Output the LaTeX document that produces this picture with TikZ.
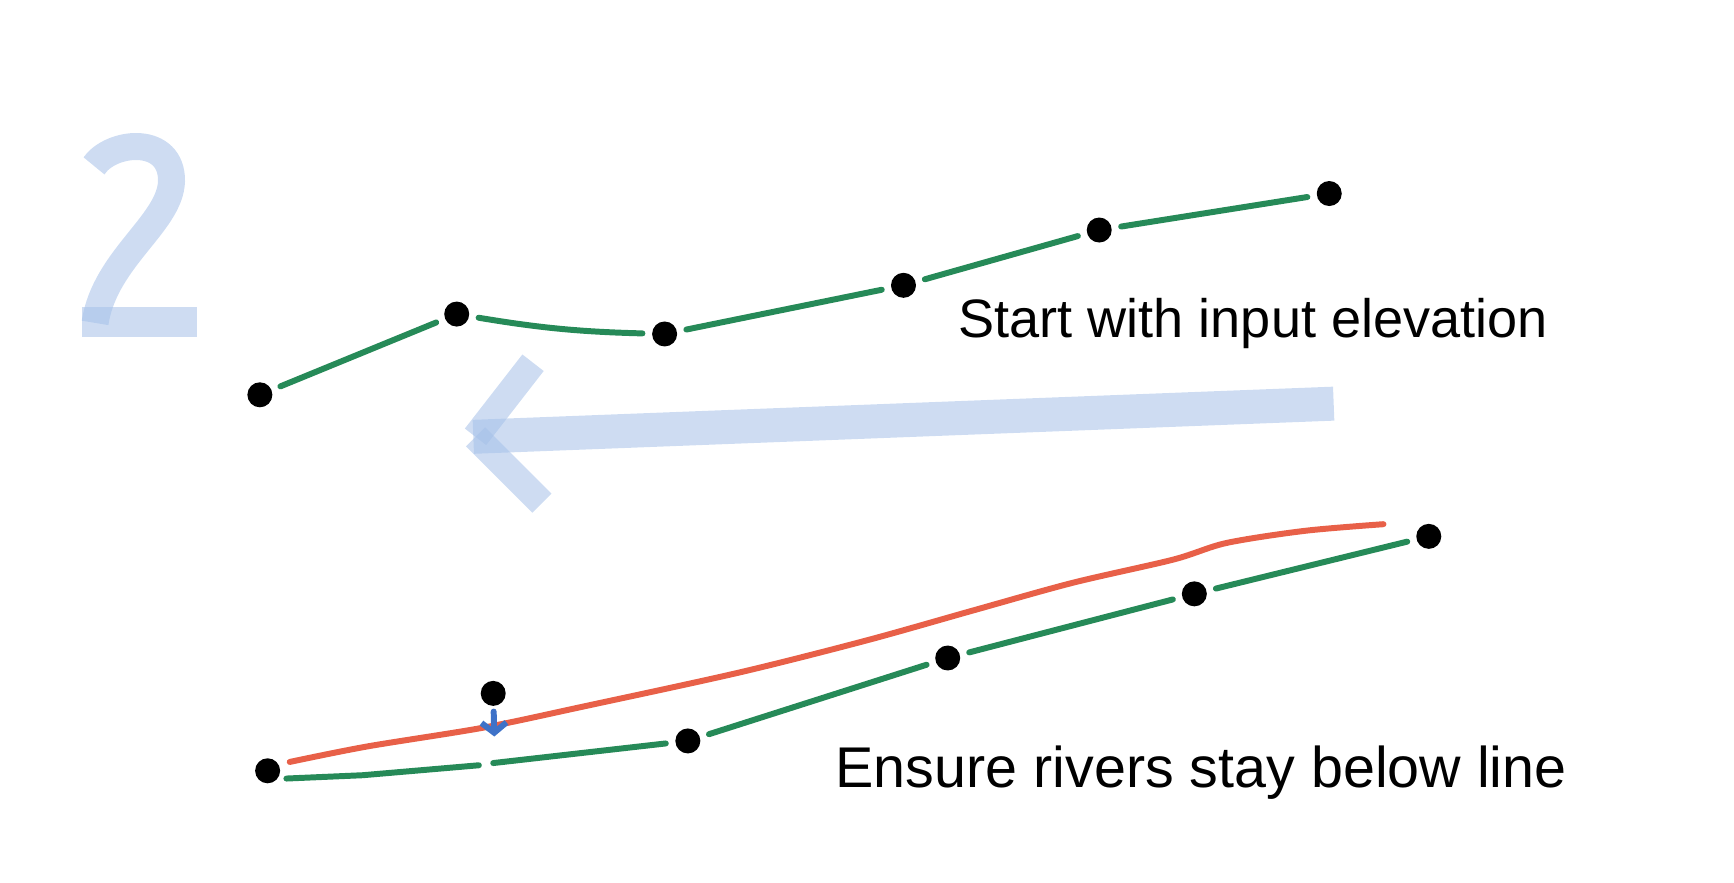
\documentclass[tikz,border=0pt]{standalone}
\usepackage{fontspec}
\setmainfont{Liberation Sans}
\usetikzlibrary{arrows.meta,positioning,calc}
\definecolor{riverline}{RGB}{38,138,88}
\definecolor{ceiling}{RGB}{232,96,72}
\definecolor{wash}{RGB}{165,192,232}
\definecolor{nudgeblue}{RGB}{62,114,200}

\begin{document}
\begin{tikzpicture}[x={(0.011059cm,0cm)}, y={(0cm,-0.011059cm)},
    dot/.style={circle, fill=black, inner sep=0pt, minimum width=0.24cm, minimum height=0.25cm},
    river/.style={riverline, line width=1.7pt, line cap=round, shorten <=0.09cm, shorten >=0.09cm},
    limit/.style={ceiling, line width=1.7pt, line cap=round},
    brush/.style={wash, opacity=0.55, line cap=butt},
    caption/.style={anchor=base west, inner sep=0pt}]

  \useasboundingbox (0,0) rectangle (1568,798);

  % Step number
  \draw[brush, line width=0.27cm] (85,150) .. controls (100,128) and (152,122) .. (155,160)
    .. controls (158,200) and (95,232) .. (86,292);
  \draw[brush, line width=0.3cm] (74,291) -- (178,291);

  % Input elevation
  \foreach \n/\x/\y in {1/235/357, 2/413/284, 3/601/302, 4/817/258, 5/994/208, 6/1202/175}
    \node[dot] (t\n) at (\x,\y) {};
  \draw[river] (t1) -- (t2);
  \draw[river] (t2) to[bend right=4] (t3);
  \foreach \a/\b in {3/4, 4/5, 5/6}
    \draw[river] (t\a) -- (t\b);
  \node[caption, font=\fontsize{15.4}{18}\selectfont] (toptext) at (866,305) {Start with input elevation};

  % Big arrow
  \draw[brush, line width=0.34cm] (1206,365) -- (428,395);
  \draw[brush, line width=0.27cm] (482,328) -- (430,395);
  \draw[brush, line width=0.27cm] (430,395) -- (490,455);

  % Rivers below the line
  \foreach \n/\x/\y in {1/242/697, 2/446/627, 3/622/670, 4/857/595, 5/1080/537, 6/1292/485}
    \node[dot] (b\n) at (\x,\y) {};
  \draw[limit] plot[smooth, tension=0.5] coordinates {(262,689) (332,675) (437,658) (527,639)
    (669,608) (784,579) (880,552) (970,527) (1061,506) (1109,491) (1180,480) (1251,474)};
  \coordinate (rstart) at (259,704);
  \coordinate (gapl) at (433,692);
  \coordinate (gapr) at (446,690);
  \draw[river, shorten <=0pt, shorten >=0pt] (rstart) -- (328,701) -- (gapl);
  \draw[river, shorten <=0pt] (gapr) -- (b3);
  \foreach \a/\b in {3/4, 4/5, 5/6}
    \draw[river] (b\a) -- (b\b);
  \coordinate (hit) at (447,666);
  \draw[nudgeblue, line width=1.7pt, line cap=round, -{Straight Barb[length=1mm,width=2.5mm]},
    shorten <=0.05cm] (b2) -- (hit);
  \node[caption, font=\fontsize{16.35}{19}\selectfont] (bottext) at (755,712) {Ensure rivers stay below line};

\end{tikzpicture}
\end{document}
